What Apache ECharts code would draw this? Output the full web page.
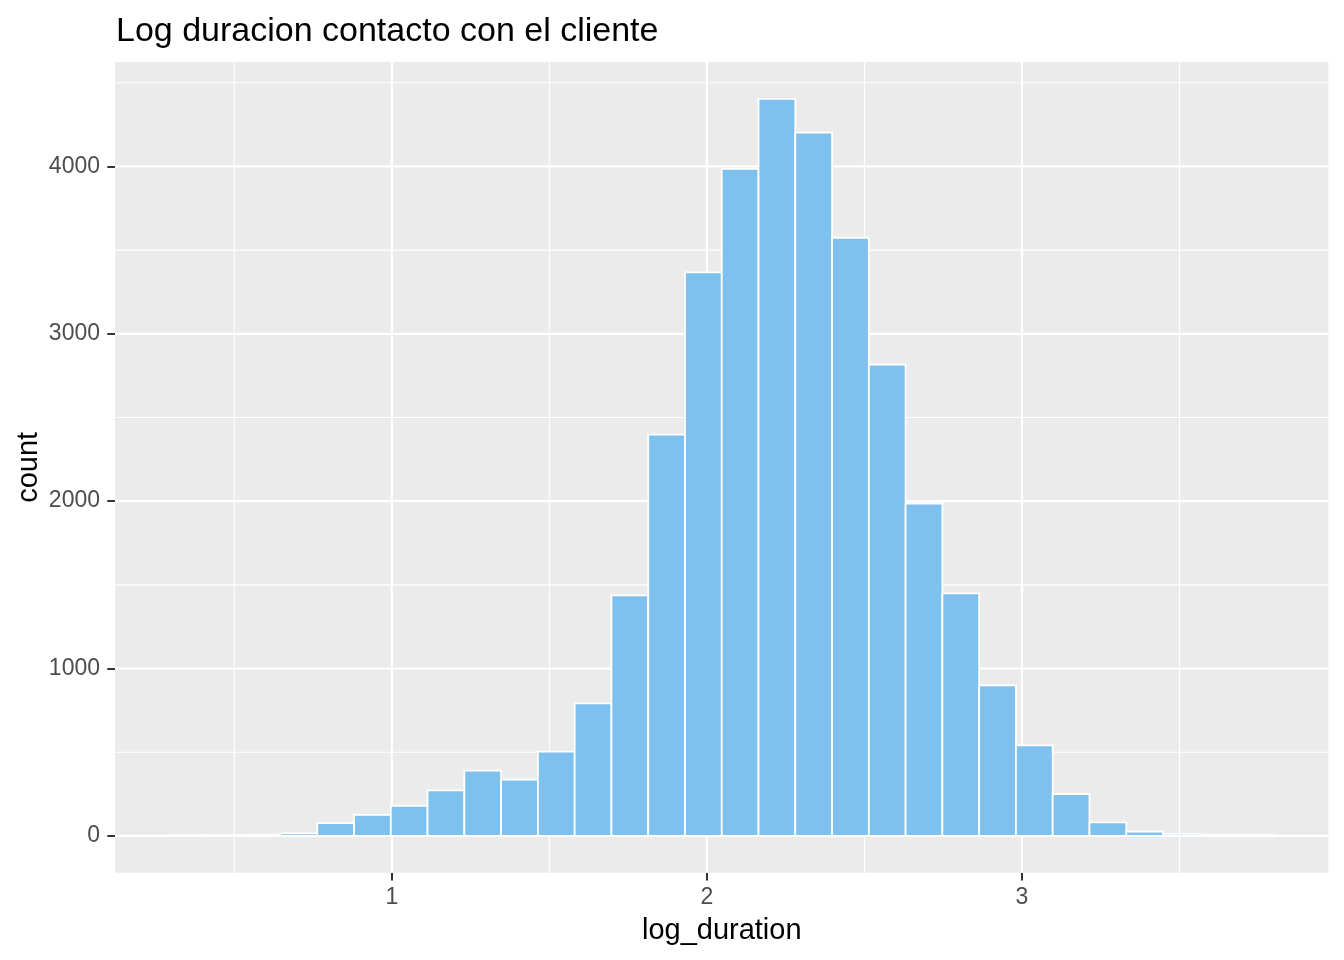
<!DOCTYPE html>
<html>
<head>
    <meta charset="UTF-8">
    <title>Log duracion contacto con el cliente</title>
    <script src="https://cdn.jsdelivr.net/npm/echarts@6/dist/echarts.min.js"></script>
    <style>
        html, body { margin: 0; padding: 0; background: #fff; }
        #chart { width: 1344px; height: 960px; }
    </style>
</head>
<body>
<div id="chart"></div>
<script>
    // histograma de log_duration, 30 bins
    var binStart = 0.2966;
    var binWidth = 0.1167;
    var counts = [4, 4, 5, 15, 76, 125, 180, 272, 390, 336,
                  503, 792, 1437, 2398, 3367, 3986, 4404, 4203, 3574, 2816,
                  1986, 1449, 900, 541, 250, 80, 26, 12, 6, 5];

    var xTicks = [1, 2, 3];
    var xMinor = [0.5, 1.5, 2.5, 3.5];
    var yTicks = [0, 1000, 2000, 3000, 4000];
    var yMinor = [500, 1500, 2500, 3500, 4500];

    // rango con expansion del 5% (como ggplot)
    var binEnd = binStart + counts.length * binWidth;
    var xPad = (binEnd - binStart) * 0.05;
    var xMin = binStart - xPad, xMax = binEnd + xPad;
    var yTop = Math.max.apply(null, counts);
    var yMin = -yTop * 0.05, yMax = yTop * 1.05;

    var bars = counts.map(function (c, i) {
        return [binStart + i * binWidth, binStart + (i + 1) * binWidth, c];
    });

    // lineas de la rejilla: [orientacion, valor, grosor]
    var gridData = [];
    xMinor.forEach(function (v) { gridData.push([0, v, 1.1]); });
    yMinor.forEach(function (v) { gridData.push([1, v, 1.1]); });
    xTicks.forEach(function (v) { gridData.push([0, v, 2.2]); });
    yTicks.forEach(function (v) { gridData.push([1, v, 2.2]); });

    var fontFam = '"Liberation Sans", Arial, sans-serif';

    var myChart = echarts.init(document.getElementById('chart'));
    var option = {
        animation: false,
        backgroundColor: '#ffffff',
        title: {
            text: 'Log duracion contacto con el cliente',
            left: 116,
            top: 15,
            padding: 0,
            textStyle: { color: '#000', fontSize: 34, fontWeight: 'normal', fontFamily: fontFam }
        },
        grid: {
            left: 115, right: 15.5, top: 62, bottom: 87.3,
            outerBoundsMode: 'none',
            containLabel: false,
            show: true, backgroundColor: '#EBEBEB', borderWidth: 0
        },
        xAxis: {
            type: 'value',
            min: xMin, max: xMax,
            name: 'log_duration',
            nameLocation: 'middle',
            nameGap: 44,
            nameMoveOverlap: false,
            nameTextStyle: { color: '#000', fontSize: 29, fontFamily: fontFam },
            axisLine: { show: false, onZero: false },
            axisTick: { show: true, length: 7.7, customValues: xTicks, lineStyle: { color: '#333', width: 2 } },
            axisLabel: {
                customValues: xTicks, margin: 13, color: '#4D4D4D', fontSize: 23, fontFamily: fontFam,
                formatter: function (v) { return String(v); }
            },
            splitLine: { show: false }
        },
        yAxis: {
            type: 'value',
            min: yMin, max: yMax,
            name: 'count',
            nameLocation: 'middle',
            nameGap: 72,
            nameRotate: 90,
            nameMoveOverlap: false,
            nameTextStyle: { color: '#000', fontSize: 29, fontFamily: fontFam },
            axisLine: { show: false, onZero: false },
            axisTick: { show: true, length: 7.7, customValues: yTicks, lineStyle: { color: '#333', width: 2 } },
            axisLabel: {
                customValues: yTicks, margin: 15, color: '#4D4D4D', fontSize: 23, fontFamily: fontFam,
                formatter: function (v) { return String(v); }
            },
            splitLine: { show: false }
        },
        series: [
            {
                type: 'custom',
                silent: true,
                z: 1,
                data: gridData,
                encode: { x: 1 },
                renderItem: function (params, api) {
                    var cs = params.coordSys;
                    var v = api.value(1);
                    var shape;
                    if (api.value(0) === 0) {
                        var px = api.coord([v, 0])[0];
                        shape = { x1: px, y1: cs.y, x2: px, y2: cs.y + cs.height };
                    } else {
                        var py = api.coord([xMin, v])[1];
                        shape = { x1: cs.x, y1: py, x2: cs.x + cs.width, y2: py };
                    }
                    return {
                        type: 'line',
                        shape: shape,
                        style: { stroke: '#ffffff', lineWidth: api.value(2) }
                    };
                }
            },
            {
                type: 'custom',
                z: 2,
                data: bars,
                encode: { x: [0, 1], y: 2 },
                renderItem: function (params, api) {
                    var p0 = api.coord([api.value(0), 0]);
                    var p1 = api.coord([api.value(1), api.value(2)]);
                    return {
                        type: 'rect',
                        shape: { x: p0[0], y: p1[1], width: p1[0] - p0[0], height: p0[1] - p1[1] },
                        style: { fill: '#7EC0EE', stroke: '#ffffff', lineWidth: 1.8 }
                    };
                }
            }
        ]
    };

    myChart.setOption(option);
</script>
</body>
</html>
